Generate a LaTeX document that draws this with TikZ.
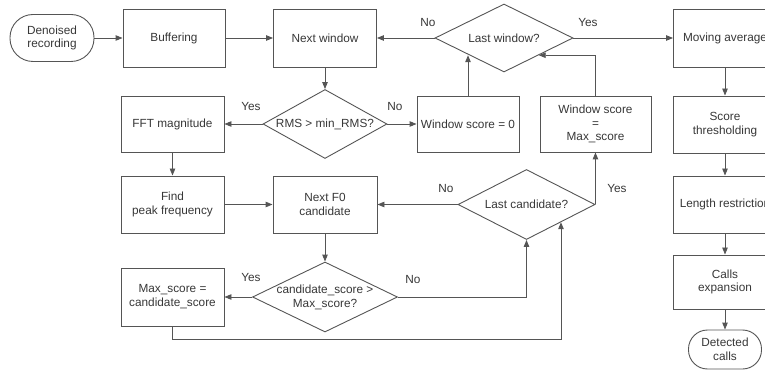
\documentclass[tikz,border=0pt]{standalone}
\usepackage{fontspec}
\setmainfont{Liberation Sans}
\usetikzlibrary{shapes.geometric,arrows.meta}
\definecolor{linegray}{RGB}{85,85,85}
\definecolor{textgray}{RGB}{55,55,55}
\tikzset{
  txt/.style={text=textgray, font=\fontsize{11.8}{13.8}\selectfont, align=center},
  base/.style={txt, draw=linegray, line width=0.9pt, inner sep=0pt},
  procbox/.style={base, rectangle, minimum width=103pt, minimum height=57pt},
  terminal/.style={base, rectangle},
  decision/.style={base, diamond},
  dtext/.style={txt, inner sep=0pt},
  lbl/.style={txt, inner sep=0pt},
  conn/.style={draw=linegray, line width=0.9pt, -{Triangle[length=7pt,width=5.5pt]}}
}
\begin{document}
\begin{tikzpicture}[x=1pt,y=-1pt]
\useasboundingbox (0,0) rectangle (765,371);
\clip (0,0) rectangle (765,371);

% top row
\node[terminal, minimum width=84pt, minimum height=47pt, rounded corners=23pt] (den) at (52,38) {Denoised\\recording};
\node[procbox, minimum width=102pt, minimum height=58pt] (buf) at (174,38) {Buffering};
\node[procbox, minimum height=58pt] (nw) at (325,38) {Next window};
\node[decision, minimum width=138pt, minimum height=68pt,
      label={[dtext]center:{Last window?}}] (lw) at (504,38) {};
\node[procbox, minimum height=58pt] (ma) at (725,38) {Moving average};

% second row
\node[procbox, minimum height=56pt] (fft) at (172.5,124) {FFT magnitude};
\node[decision, minimum width=124pt, minimum height=69pt,
      label={[dtext]center:{RMS > min\_RMS?}}] (rms) at (325,124) {};
\node[procbox, minimum width=102pt, minimum height=56pt] (ws0) at (468,124) {Window score = 0};
\node[procbox, minimum width=111pt, minimum height=56pt] (wsm) at (595.5,124) {Window score\\=\\Max\_score};
\node[procbox, minimum height=57pt] (st) at (725,124.5) {Score\\thresholding};

% third row
\node[procbox] (fpf) at (172.5,204.5) {Find\\peak frequency};
\node[procbox, minimum width=104pt] (nf0) at (325,204.5) {Next F0\\candidate};
\node[decision, minimum width=137pt, minimum height=70pt,
      label={[dtext]center:{Last candidate?}}] (lc) at (526.5,204.5) {};
\node[procbox] (ls) at (725,204.5) {Length restriction};

% fourth row
\node[procbox, minimum height=58pt] (mxs) at (172.5,297) {Max\_score =\\candidate\_score};
\node[decision, minimum width=145pt, minimum height=70pt,
      label={[dtext]center:{candidate\_score >\\Max\_score?}}] (cs) at (325,297) {};
\node[procbox, minimum height=54pt] (ce) at (725,282) {Calls\\expansion};
\node[terminal, minimum width=73pt, minimum height=39pt, rounded corners=19pt] (dc) at (725,349.5) {Detected\\calls};

\coordinate (mxloop) at (172.5,339);

% connectors
\draw[conn] (den) -- (buf);
\draw[conn] (buf) -- (nw);
\draw[conn] (lw) -- (nw);
\draw[conn] (lw) -- (ma);
\draw[conn] (nw) -- (rms);
\draw[conn] (rms) -- (fft);
\draw[conn] (rms) -- (ws0);
\draw[conn] (ws0.north) -- (ws0.north |- lw.south west);
\draw[conn] (wsm.north) |- (lw.south east);
\draw[conn] (fft) -- (fpf);
\draw[conn] (fpf) -- (nf0);
\draw[conn] (lc) -- (nf0);
\draw[conn] (lc.east) -- (lc.east |- wsm.south);
\draw[conn] (nf0) -- (cs);
\draw[conn] (cs) -- (mxs);
\draw[conn] (cs.east) -| (lc.south);
\draw[conn] (mxs.south) -- (mxloop) -| (lc.south east);
\draw[conn] (ma) -- (st);
\draw[conn] (st) -- (ls);
\draw[conn] (ls) -- (ce);
\draw[conn] (ce) -- (dc);

% branch labels
\node[lbl] (lwno) at (428,23) {No};
\node[lbl] (lwyes) at (588,23) {Yes};
\node[lbl] (rmsyes) at (251,107) {Yes};
\node[lbl] (rmsno) at (395,107) {No};
\node[lbl] (lcno) at (446,188) {No};
\node[lbl] (lcyes) at (617,188) {Yes};
\node[lbl] (csyes) at (251,277) {Yes};
\node[lbl] (csno) at (413,279) {No};
\end{tikzpicture}
\end{document}
